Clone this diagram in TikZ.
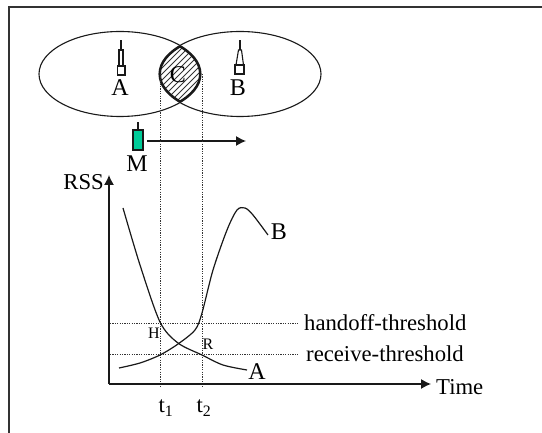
\documentclass[tikz,border=0pt]{standalone}
\usepackage{fontspec}
\setmainfont{Liberation Serif}
\usetikzlibrary{arrows.meta}
\definecolor{mgreen}{RGB}{0,204,153}
\tikzset{
  px/.style={x=1pt,y=-1pt},
  line/.style={line width=1.1pt,black!90},
  guide/.style={line width=0.9pt,black!80,dash pattern=on 1.2pt off 1.2pt},
  axis/.style={line width=1.2pt,black!90,-{Latex[length=10pt,width=10pt]}},
  big/.style={inner sep=0pt,font=\fontsize{24}{26}\selectfont},
  mid/.style={inner sep=0pt,font=\fontsize{22.7}{25}\selectfont},
  small/.style={inner sep=0pt,font=\fontsize{16}{18}\selectfont},
  hatch/.style={line width=1pt,black!80},
  frameline/.style={line width=1.4pt,black!80},
}
\begin{document}
\begin{tikzpicture}[px]
\useasboundingbox (0,0) rectangle (542,433);
% frame
\coordinate (fa) at (542,7);
\coordinate (fb) at (9,7);
\coordinate (fc) at (9,433);
\draw[frameline] (fa) -- (fb) -- (fc);
% coordinates
\coordinate (origin) at (109,384);
\coordinate (ytip) at (109,175);
\coordinate (xtip) at (431,384);
\coordinate (v1top) at (160,74);
\coordinate (v1bot) at (160,387);
\coordinate (v2top) at (202,74);
\coordinate (v2bot) at (202,387);
\coordinate (h1a) at (110,323);
\coordinate (h2a) at (110,354);
% hatched overlap
\begin{scope}
  \clip (120,74) ellipse [x radius=81,y radius=42.5];
  \clip (240,74) ellipse [x radius=81,y radius=42.5];
  \foreach \d in {-66,-60,...,66}
    \draw[hatch] (180+\d-40,114) -- (180+\d+40,34);
  \draw[line width=4pt,black!90] (120,74) ellipse [x radius=81,y radius=42.5];
  \draw[line width=4pt,black!90] (240,74) ellipse [x radius=81,y radius=42.5];
\end{scope}
\draw[line] (120,74) ellipse [x radius=81,y radius=42.5];
\draw[line] (240,74) ellipse [x radius=81,y radius=42.5];
% antennas
\draw[line,fill=white] (117.5,66) rectangle (125,75);
\draw[line] (119,66) -- (119,50) -- (123,50) -- (123,66);
\draw[line] (121,50) -- (121,40);
\draw[line,fill=white] (235,65) rectangle (244,74);
\draw[line] (236,65) -- (238.5,50) -- (241.5,50) -- (243.5,65);
\draw[line] (240,50) -- (240,40);
\node[big] (lA) at (120,88) {A};
\node[big] (lB) at (238,88) {B};
\node[big] (lC) at (178,75) {C};
% mobile
\node[draw=black!90,line width=1.1pt,fill=mgreen,minimum width=10pt,minimum height=20pt,inner sep=0pt] (mob) at (138,140) {};
\coordinate (mant) at (138,122);
\draw[line,line width=1.6pt] (mob.north) -- (mant);
\node[big] (lM) at (137,164) {M};
\coordinate (mstart) at (147,141);
\coordinate (mend) at (246,141);
\draw[axis] (mstart) -- (mend);
% guides
\draw[guide] (v1top) -- (v1bot);
\draw[guide] (v2top) -- (v2bot);
\node[mid,anchor=west] (hth) at (304,323) {handoff-threshold};
\node[mid,anchor=west] (rth) at (306,354) {receive-threshold};
\draw[guide,shorten >=5pt] (h1a) -- (hth.west);
\draw[guide,shorten >=7pt] (h2a) -- (rth.west);
% axes
\draw[axis] (origin) -- (ytip);
\draw[axis] (origin) -- (xtip);
\node[mid,anchor=west] (lTime) at (436,387) {Time};
\node[mid,anchor=east] (lRSS) at (104,182) {RSS};
% curves
\draw[line,line width=1.2pt] plot[smooth,tension=0.5] coordinates {(123,208) (140,265) (160,322) (178,343) (202,355) (223,365) (247,370)};
\draw[line,line width=1.2pt] plot[smooth,tension=0.5] coordinates {(119,368) (140,363) (160,355) (178,344) (195,330) (202,313) (213,270) (227,230) (237,210) (245,208) (253,215) (268,235)};
\node[big] (cA) at (257,372) {A};
\node[big] (cB) at (279,232) {B};
\node[small] (lH) at (154,333) {H};
\node[small] (lR) at (208,344) {R};
\node[mid] (t1) at (166,408) {t\textsubscript{1}};
\node[mid] (t2) at (204,408) {t\textsubscript{2}};
\end{tikzpicture}
\end{document}
